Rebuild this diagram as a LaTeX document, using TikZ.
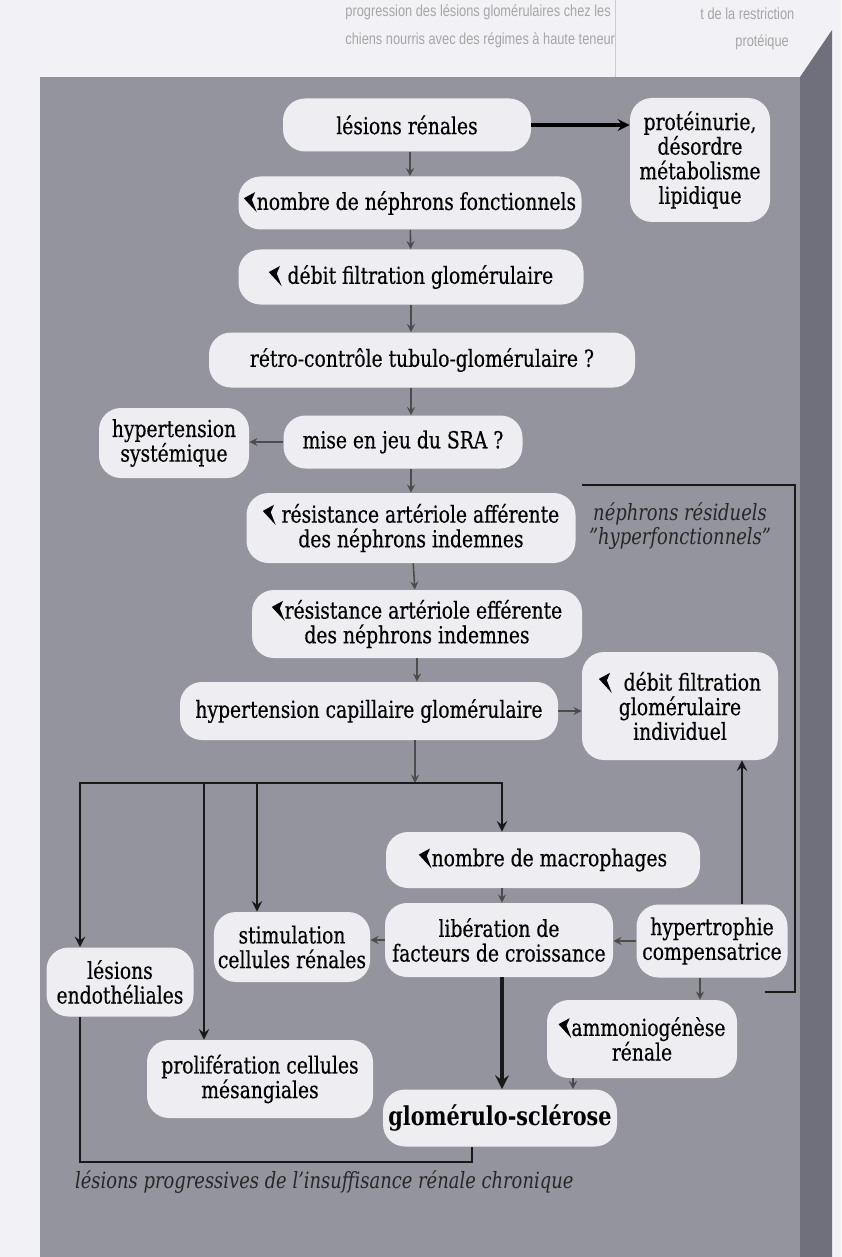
\documentclass[tikz,border=0pt]{standalone}
\usepackage{fontspec}
\setmainfont{DejaVu Serif}[FakeStretch=0.8]
\newfontfamily\bullefont{DejaVu Serif}[FakeStretch=0.8, FakeBold=0.4]
\newfontfamily\pagefont{Liberation Sans}[FakeStretch=0.8]
\usepackage{tikz}
\usetikzlibrary{shapes.geometric, arrows, positioning}
\definecolor{fond}{RGB}{148,148,158}
\definecolor{tranche}{RGB}{112,112,124}
\definecolor{bulle}{RGB}{238,238,242}
\definecolor{papier}{RGB}{242,242,246}
\tikzset{
	pill/.style={rectangle, rounded corners=11pt, inner sep=2pt, align=center, fill=bulle, font=\bullefont\fontsize{11.7}{12.3}\selectfont},
	arrow/.style={thick,->,>=stealth,black!70},
	branch/.style={line width=1.3pt,black!90,>=stealth},
	legende/.style={align=center, font=\fontsize{11.2}{12}\selectfont\itshape, text=black!85},
	pagetext/.style={anchor=west, inner sep=0pt, text=black!35, font=\pagefont\fontsize{8}{9}\selectfont}
}
\newcommand{\moins}{\tikz[baseline=-0.5em, sharp corners]\fill (0,0) -- (0.48em,0.26em) -- (0.34em,-0.06em) -- (0.55em,-0.6em) -- cycle;}

\begin{document}
\begin{tikzpicture}[x=0.5pt, y=-0.5pt]
		\useasboundingbox (0,0) rectangle (841,1257);
		
		% Page and panel
		\fill [papier] (0,0) rectangle (841,1257);
		\node (page1) [pagetext] at (345,12) {progression des lésions glomérulaires chez les};
		\node (page2) [pagetext] at (345,40) {chiens nourris avec des régimes à haute teneur};
		\node (page3) [pagetext] at (700,14) {t de la restriction};
		\node (page4) [pagetext] at (735,42) {protéique};
		\draw [black!20] (615,0) -- (615,77);
		\fill [fond] (40,77) rectangle (800,1257);
		\fill [tranche] (800,77) -- (832,30) -- (832,1257) -- (800,1257) -- cycle;
		
		% Nodes
		\node (lesions) [pill, minimum width=124pt, minimum height=26.5pt] at (407,125) {lésions rénales};
		\node (proteinurie) [pill, minimum width=70pt, minimum height=62pt] at (700,160) {protéinurie,\\désordre\\métabolisme\\lipidique};
		\node (nephrons) [pill, minimum width=171.5pt, minimum height=26.5pt] at (410,203) {\moins nombre de néphrons fonctionnels};
		\node (dfg) [pill, minimum width=172.5pt, minimum height=27.5pt] at (411,277) {\moins\ débit filtration glomérulaire};
		\node (retro) [pill, minimum width=213pt, minimum height=27.5pt] at (422,360) {rétro-contrôle tubulo-glomérulaire ?};
		\node (sra) [pill, minimum width=119.5pt, minimum height=26.5pt] at (403,442) {mise en jeu du SRA ?};
		\node (hta) [pill, minimum width=75pt, minimum height=35pt] at (174,443) {hypertension\\systémique};
		\node (afferente) [pill, minimum width=164.5pt, minimum height=35pt] at (411,528) {\moins\ résistance artériole afférente\\des néphrons indemnes};
		\node (efferente) [pill, minimum width=165pt, minimum height=34pt] at (417,624) {\moins résistance artériole efférente\\des néphrons indemnes};
		\node (hcg) [pill, minimum width=189pt, minimum height=29pt] at (369,711) {hypertension capillaire glomérulaire};
		\node (dfgi) [pill, minimum width=98pt, minimum height=54pt] at (680,706) {\moins\ \ débit filtration\\glomérulaire\\individuel};
		\node (macrophages) [pill, minimum width=157pt, minimum height=28pt] at (543,860) {\moins nombre de macrophages};
		\node (facteurs) [pill, minimum width=114pt, minimum height=37pt] at (499,940) {libération de\\facteurs de croissance};
		\node (stimulation) [pill, minimum width=78pt, minimum height=35pt] at (292,947) {stimulation\\cellules rénales};
		\node (hypertrophie) [pill, minimum width=75.5pt, minimum height=36.5pt] at (712,941) {hypertrophie\\compensatrice};
		\node (endotheliales) [pill, minimum width=73.5pt, minimum height=34.5pt] at (120,982) {lésions\\endothéliales};
		\node (proliferation) [pill, minimum width=113pt, minimum height=39pt] at (260,1079) {prolifération cellules\\mésangiales};
		\node (ammonio) [pill, minimum width=95pt, minimum height=39pt] at (642,1039) {\moins ammoniogénèse\\rénale};
		\node (sclerose) [pill, minimum width=117pt, minimum height=28.5pt, font=\fontsize{13}{14}\selectfont\bfseries] at (500,1118) {glomérulo-sclérose};
		
		% Labels
		\node (residuels) [legende] at (680,526) {néphrons résiduels\\"hyperfonctionnels"};
		\node (chronique) [legende, anchor=west] at (68,1182) {lésions progressives de l'insuffisance rénale chronique};
		\coordinate (split) at (415,783);
		\coordinate (coin) at (472,1162);
		
		% Arrows
		\draw [arrow] (lesions.south -| nephrons) -- (nephrons.north);
		\draw [arrow, black, line width=1.6pt] (lesions.east) -- (lesions.east -| proteinurie.west);
		\draw [arrow] (nephrons) -- (dfg);
		\draw [arrow] (dfg.south) -- (dfg.south |- retro.north);
		\draw [arrow] (retro.south -| dfg) -- (dfg |- sra.north);
		\draw [arrow] (sra.west) -- (sra.west -| hta.east);
		\draw [arrow] (sra.south -| afferente) -- (afferente.north);
		\draw [arrow] (afferente) -- (efferente);
		\draw [arrow] (efferente.south) -- (efferente.south |- hcg.north);
		\draw [arrow] (hcg.east) -- (hcg.east -| dfgi.west);
		\draw [arrow] (hcg.south -| split) -- (split);
		\draw [branch, <->] ([xshift=-20pt]endotheliales.north) |- (split) -| ([xshift=-20.5pt]macrophages.north);
		\draw [branch, ->] ([xshift=-28pt]proliferation.north |- split) -- ([xshift=-28pt]proliferation.north);
		\draw [branch, ->] ([xshift=-17.5pt]stimulation.north |- split) -- ([xshift=-17.5pt]stimulation.north);
		\draw [arrow] ([xshift=-20.5pt]macrophages.south) -- ([xshift=-20.5pt]macrophages.south |- facteurs.north);
		\draw [arrow] (facteurs.west) -- (facteurs.west -| stimulation.east);
		\draw [arrow] (hypertrophie.west) -- (hypertrophie.west -| facteurs.east);
		\draw [branch, ->] ([xshift=15pt]hypertrophie.north) -- ([xshift=15pt]hypertrophie.north |- dfgi.south);
		\draw [arrow] ([xshift=-6pt]hypertrophie.south) -- ([xshift=-6pt]hypertrophie.south |- ammonio.north);
		\draw [branch, ->, line width=2pt] ([xshift=1.5pt]facteurs.south) -- ([xshift=1.5pt]facteurs.south |- sclerose.north);
		\draw [arrow] ([xshift=-34.5pt]ammonio.south) -- ([xshift=-34.5pt]ammonio.south |- sclerose.north);
		\draw [branch] ([xshift=-20pt]endotheliales.south) |- (coin) -- (coin |- sclerose.south);
		\draw [branch] (582,485) -| (795,992) -- (765,992);
		
	\end{tikzpicture}
\end{document}
